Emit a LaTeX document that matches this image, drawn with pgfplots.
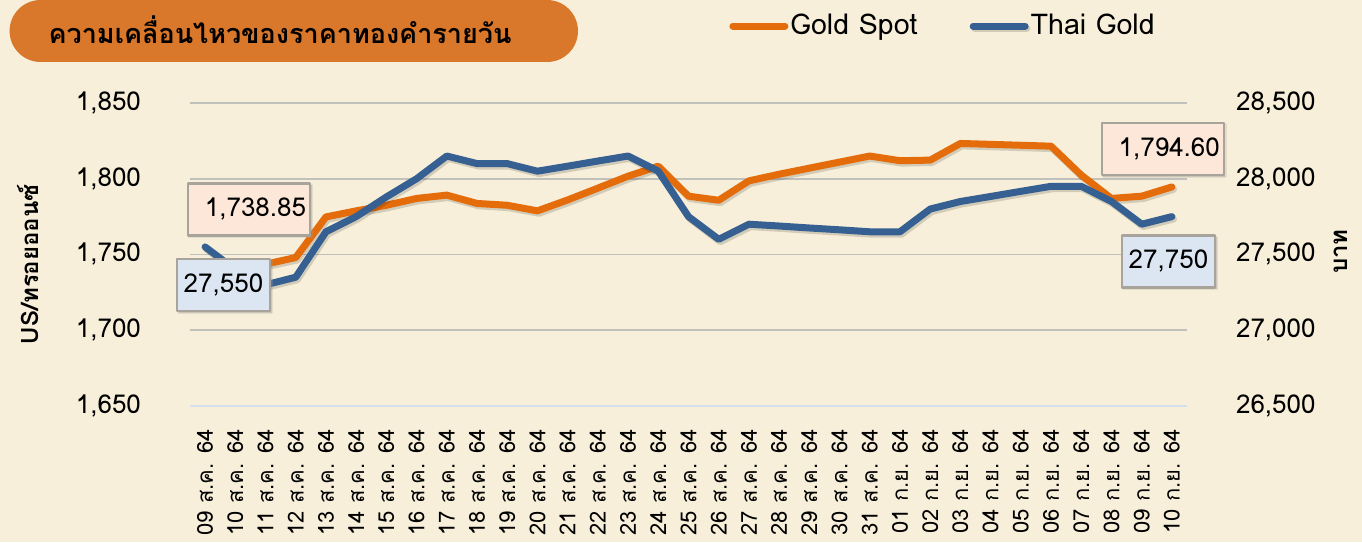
\documentclass[border=0pt]{standalone}
\usepackage{fontspec}
\setmainfont[Script=Thai]{Loma}
\usepackage{pgfplots}
\pgfplotsset{compat=1.18}
\usetikzlibrary{shadows}
\definecolor{bg}{HTML}{F7EFD9}
\definecolor{titleor}{HTML}{D9772A}
\definecolor{gsorange}{HTML}{E46C0A}
\definecolor{tgblue}{HTML}{376092}
\definecolor{gridgray}{HTML}{C0C0BC}
\definecolor{axblue}{HTML}{D5E0EC}
\definecolor{boxor}{HTML}{FCE7D8}
\definecolor{boxbl}{HTML}{DCE6F2}
\definecolor{boxedge}{HTML}{A8A49C}

\pgfplotstableread{
x gs tg
0 1738.85 27550
1 1741.0 27400
2 1743.6 27300
3 1748.0 27350
4 1774.8 27650
5 1778.8 27750
6 1782.5 27880
7 1787.0 28000
8 1789.2 28150
9 1783.7 28100
10 1782.5 28100
11 1778.8 28050
12 1786.0 28083
13 1793.8 28117
14 1801.7 28150
15 1808.3 28050
16 1788.5 27750
17 1785.8 27600
18 1798.6 27700
19 1803.0 27688
20 1807.0 27675
21 1811.0 27663
22 1815.0 27650
23 1811.9 27650
24 1812.3 27800
25 1823.3 27850
26 1822.7 27883
27 1822.1 27917
28 1821.5 27950
29 1802.4 27950
30 1787.0 27850
31 1788.5 27700
32 1794.6 27750
}\datatable

\tikzset{
  lbl/.style={font=\fontsize{13}{15}\selectfont, text=black, draw=boxedge, line width=1.3pt,
    drop shadow={shadow xshift=0.8pt, shadow yshift=-0.8pt, opacity=0.25},
    minimum height=26pt, inner xsep=2pt},
}
\pgfplotsset{
  common/.style={
    at={(95pt,68pt)}, anchor=south west,
    scale only axis, width=498.5pt, height=151.5pt,
    xmin=-0.5, xmax=32.5, clip=false,
    scaled y ticks=false,
    /pgf/number format/assume math mode=true,
    /pgf/number format/1000 sep={,},
    /pgf/number format/fixed,
    yticklabel style={font=\fontsize{13}{15}\selectfont},
    tick style={draw=none},
    y axis line style={draw=none},
  },
}

\begin{document}
\begin{tikzpicture}
\fill[bg] (0,0) rectangle (681pt,271pt);
\path[use as bounding box] (0,0) rectangle (681pt,271pt);
\fill[titleor, rounded corners=15.5pt] (4.8pt,240pt) rectangle (289pt,271pt);
\node[font=\bfseries\fontsize{13.5}{16}\selectfont] at (140pt,256pt) {ความเคลื่อนไหวของราคาทองคำรายวัน};

\begin{axis}[common,
  ymin=1650, ymax=1850, ytick={1650,1700,...,1850},
  axis y line*=left,
  axis x line*=bottom, x axis line style={axblue, line width=1pt, -},
  ymajorgrids, grid style={gridgray, line width=0.85pt},
  yticklabel style={xshift=-21pt},
  xtick={0,...,32},
  xticklabels={09 ส.ค. 64,10 ส.ค. 64,11 ส.ค. 64,12 ส.ค. 64,13 ส.ค. 64,14 ส.ค. 64,15 ส.ค. 64,16 ส.ค. 64,17 ส.ค. 64,18 ส.ค. 64,19 ส.ค. 64,20 ส.ค. 64,21 ส.ค. 64,22 ส.ค. 64,23 ส.ค. 64,24 ส.ค. 64,25 ส.ค. 64,26 ส.ค. 64,27 ส.ค. 64,28 ส.ค. 64,29 ส.ค. 64,30 ส.ค. 64,31 ส.ค. 64,01 ก.ย. 64,02 ก.ย. 64,03 ก.ย. 64,04 ก.ย. 64,05 ก.ย. 64,06 ก.ย. 64,07 ก.ย. 64,08 ก.ย. 64,09 ก.ย. 64,10 ก.ย. 64},
  xticklabel style={rotate=90, anchor=east, font=\fontsize{11}{13}\selectfont, xshift=-8pt},
  ylabel={\bfseries US/ทรอยออนซ์},
  ylabel style={at={(axis description cs:-0.1625,0.468)}, anchor=center, font=\fontsize{12}{14}\selectfont},
]
\addplot[gsorange, line width=3.5pt, line join=round, line cap=round,
  preaction={draw=black, opacity=0.15, transform canvas={xshift=0.8pt,yshift=-1.2pt}}]
  table[x=x,y=gs]{\datatable}
  node[pos=0, lbl, fill=boxor, text width=57pt, align=right, xshift=22pt, yshift=31pt] {1,738.85}
  node[pos=1, lbl, fill=boxor, text width=57pt, align=right, xshift=-4.5pt, yshift=18.9pt] {1,794.60};
\end{axis}

\begin{axis}[common,
  ymin=26500, ymax=28500, ytick={26500,27000,...,28500},
  axis x line=none, axis y line*=right,
  yticklabel style={xshift=21pt},
  xtick=\empty,
  ylabel={\bfseries บาท},
  ylabel style={at={(axis description cs:1.1545,0.51)}, anchor=center, font=\fontsize{12}{14}\selectfont},
  legend style={at={(axis description cs:0.5406,1.254)}, anchor=west, draw=none, fill=none,
    font=\fontsize{14.3}{17}\selectfont, inner sep=0pt, legend columns=2,
    /tikz/every even column/.append style={column sep=25pt},
    nodes={inner xsep=1pt}},
  legend image code/.code={\draw[#1, line width=3.5pt, line cap=round] (0pt,0pt) -- (26pt,0pt);},
]
\addlegendimage{gsorange}
\addlegendentry{Gold Spot}
\addplot[tgblue, line width=3.5pt, line join=round, line cap=round,
  preaction={draw=black, opacity=0.15, transform canvas={xshift=0.8pt,yshift=-1.2pt}}]
  table[x=x,y=tg]{\datatable}
  node[pos=0, lbl, fill=boxbl, minimum width=46.5pt, xshift=9.2pt, yshift=-19pt] {27,550}
  node[pos=1, lbl, fill=boxbl, minimum width=46.5pt, xshift=-1.7pt, yshift=-22.3pt] {27,750};
\addlegendentry{Thai Gold}
\end{axis}
\end{tikzpicture}
\end{document}
